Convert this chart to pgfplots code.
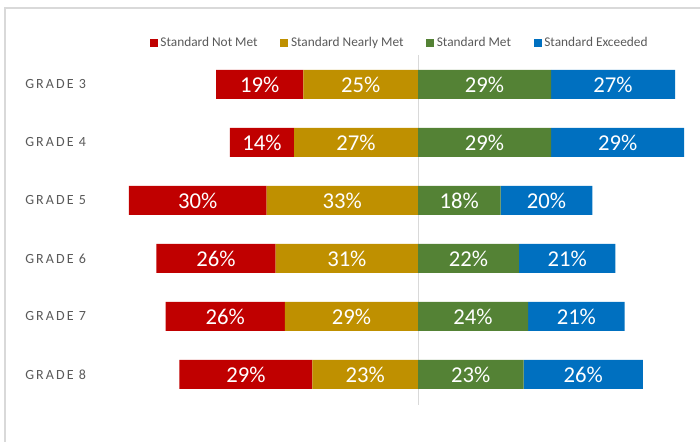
\documentclass[border=0pt]{standalone}
\usepackage{pgfplots}
\pgfplotsset{compat=1.18}
\usepackage{pgfplotstable}
\usepackage{fontspec}
\setmainfont{Carlito}
\definecolor{cNot}{HTML}{C00000}
\definecolor{cNear}{HTML}{BF9000}
\definecolor{cMet}{HTML}{548235}
\definecolor{cExc}{HTML}{0070C0}
\definecolor{txtgray}{HTML}{595959}
\definecolor{linegray}{HTML}{D9D9D9}

\pgfplotstableread{
y     nearly notmet
84.5  25 19
142.5 27 14
200.5 33 30
258.5 31 26
316.5 29 26
374.5 23 29
}\lefttab
\pgfplotstableread{
y     met exc
84.5  29 27
142.5 29 29
200.5 18 20
258.5 22 21
316.5 24 21
374.5 23 26
}\righttab

\pgfplotsset{
  divstyle/.style={
    xbar stacked, hide axis, scale only axis,
    ymin=0, ymax=442, y dir=reverse, height=331.5pt,
    bar width=29,
    /pgf/number format/assume math mode=true,
    nodes near coords={\pgfmathprintnumber{\pgfplotspointmeta}\%},
    every node near coord/.append style={anchor=center, text=white,
      font=\fontsize{17}{18}\selectfont},
  },
}

\begin{document}
\begin{tikzpicture}
\useasboundingbox (0,0) rectangle (525pt,331.5pt);
\draw[linegray, line width=0.8pt] (3.75pt,0) -- (3.75pt,325.5pt) -- (525pt,325.5pt);
\draw[linegray, line width=0.6pt] (313.5pt,27.75pt) -- (313.5pt,290.25pt);

\begin{axis}[divstyle, at={(0,0)}, anchor=south west, width=313.5pt,
  xmin=0, xmax=91.07, x dir=reverse]
\addplot[fill=cNear, draw=none, point meta=\thisrow{nearly}] table[x=nearly,y=y]{\lefttab};
\addplot[fill=cNot, draw=none, point meta=\thisrow{notmet}] table[x=notmet,y=y]{\lefttab};
\end{axis}

\begin{axis}[divstyle, at={(313.5pt,0)}, anchor=south west, width=211.5pt,
  xmin=0, xmax=61.44,
  legend style={at={(-0.0638,0.9027)}, anchor=center, draw=none, fill=none,
    legend columns=4, font=\fontsize{10}{12}\selectfont, text=txtgray,
    /tikz/every even column/.append style={column sep=15pt}},
  legend image code/.code={\fill[#1] (0pt,-3pt) rectangle (6pt,3pt);}]
\addlegendimage{fill=cNot, draw=none}
\addlegendimage{fill=cNear, draw=none}
\addplot[fill=cMet, draw=none, point meta=\thisrow{met}] table[x=met,y=y]{\righttab};
\addplot[fill=cExc, draw=none, point meta=\thisrow{exc}] table[x=exc,y=y]{\righttab};
\legend{Standard Not Met, Standard Nearly Met, Standard Met, Standard Exceeded}
\end{axis}

\begin{scope}[every node/.style={anchor=west, inner xsep=0pt, text=txtgray, font=\fontsize{10.5}{12}\selectfont\addfontfeature{LetterSpace=15}}]
\node at (18.75pt,{(442-84.5)*0.75pt}) {GRADE 3};
\node at (18.75pt,{(442-142.5)*0.75pt}) {GRADE 4};
\node at (18.75pt,{(442-200.5)*0.75pt}) {GRADE 5};
\node at (18.75pt,{(442-258.5)*0.75pt}) {GRADE 6};
\node at (18.75pt,{(442-316.5)*0.75pt}) {GRADE 7};
\node at (18.75pt,{(442-374.5)*0.75pt}) {GRADE 8};
\end{scope}
\end{tikzpicture}
\end{document}
